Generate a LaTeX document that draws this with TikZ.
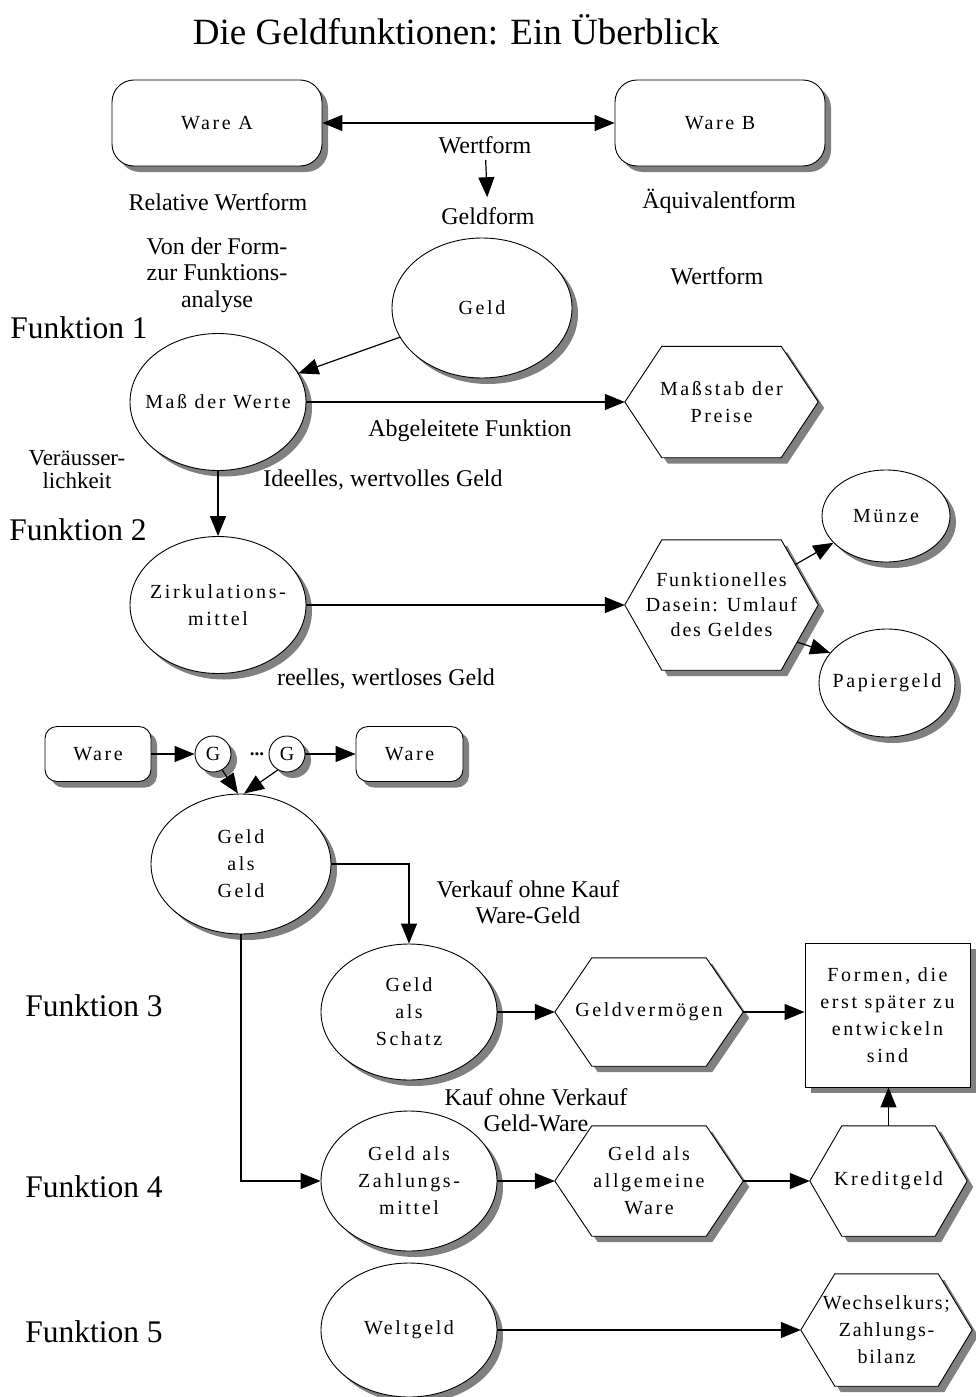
\documentclass[tikz,border=0pt]{standalone}
\usepackage{fontspec}
\setmainfont{Liberation Serif}
\newfontfamily\boxfont[LetterSpace=13]{Liberation Serif}
\newfontfamily\tightboxfont[LetterSpace=9]{Liberation Serif}
\usetikzlibrary{arrows.meta,shapes.geometric,shadows,calc,backgrounds}
\definecolor{shadowgray}{RGB}{128,128,128}
\tikzset{
  shad/.style={drop shadow={shadow xshift=6pt,shadow yshift=-6pt,fill=shadowgray,opacity=1}},
  outline/.style={draw=black,fill=white,line width=0.9pt,shad},
  inbox/.style={font=\boxfont\fontsize{20}{27}\selectfont,align=center,inner sep=0pt},
  oval/.style 2 args={outline,inbox,ellipse,inner xsep=-60pt,inner ysep=-30pt,minimum width=#1pt,minimum height=#2pt},
  rbox/.style n args={3}{outline,inbox,rectangle,rounded corners=#3pt,minimum width=#1pt,minimum height=#2pt},
  hexlabel/.style={inbox,rectangle},
  hexshape/.style={outline},
  lab/.style={font=\fontsize{24}{26.5}\selectfont,align=center,inner sep=1pt},
  funk/.style={font=\fontsize{31.5}{34}\selectfont,inner sep=0pt},
  arr/.style={line width=1.2pt,-{Triangle[length=20pt,width=16pt]}},
  link/.style={line width=1.2pt},
}
% hexagonal box: [options]{name}{centre}{width}{height}{inset}{text}
\newcommand\hexbox[7][]{%
  \node[hexlabel,minimum width=#4pt,minimum height=#5pt,#1] (#2) at (#3) {#7};
  \begin{scope}[on background layer]
    \path[hexshape] (#2.west) -- ([xshift=#6pt]#2.north west) -- ([xshift=-#6pt]#2.north east)
      -- (#2.east) -- ([xshift=-#6pt]#2.south east) -- ([xshift=#6pt]#2.south west) -- cycle;
  \end{scope}}

\begin{document}
\begin{tikzpicture}[x=1pt,y=-1pt]
\useasboundingbox (0,0) rectangle (975,1397);
\node[font=\fontsize{37}{40}\selectfont] (title) at (456,30) {Die Geldfunktionen: Ein Überblick};

% value form
\node[rbox={210}{86}{22}] (wa) at (217,123) {Ware A};
\node[rbox={210}{86}{22}] (wb) at (720,123) {Ware B};
\draw[link,{Triangle[length=20pt,width=16pt]}-{Triangle[length=20pt,width=16pt]}] (wa) -- (wb);
\node[lab] (wf) at (485,145) {Wertform};
\node[lab] (gf) at (488,216) {Geldform};
\draw[arr,shorten <=5pt,shorten >=9pt] (wf) -- (gf);
\node[lab] (rw) at (218,202) {Relative Wertform};
\node[lab] (aq) at (719,201) {Äquivalentform};
\node[lab] (vf) at (217,275) {Von der Form-\\zur Funktions-\\analyse};
\node[lab] (wf2) at (717,276) {Wertform};

% function 1
\node[funk] (f1) at (79,328) {Funktion 1};
\node[oval={180}{140}] (geld) at (482,308) {Geld};
\node[oval={176}{137}] (mass) at (218,402) {Maß der Werte};
\draw[arr] (geld) -- (mass);
\hexbox{mst}{721.5,402}{193}{111}{37}{Maßstab der\\Preise};
\draw[arr] (mass) -- (mst);
\node[lab] (abg) at (470,431) {Abgeleitete Funktion};
\node[lab,font=\fontsize{23}{23}\selectfont] (ver) at (77,470) {Veräusser-\\lichkeit};
\node[lab] (ide) at (383,480) {Ideelles, wertvolles Geld};

% function 2
\node[funk] (f2) at (78,530) {Funktion 2};
\node[oval={176}{137}] (zirk) at (218,605) {Zirkulations-\\mittel};
\draw[arr] (mass) -- (zirk);
\hexbox[font=\tightboxfont\fontsize{20}{25}\selectfont]{fun}{721.5,605}{193}{130}{37}{Funktionelles\\Dasein: Umlauf\\des Geldes};
\draw[arr] (zirk) -- (fun);
\node[oval={128}{92}] (mue) at (886,516) {Münze};
\node[oval={136}{108}] (pap) at (887,683) {Papiergeld};
\draw[arr] ($(fun.east)!0.62!([xshift=-37pt]fun.north east)$) -- (mue.207);
\draw[arr] ($(fun.east)!0.57!([xshift=-37pt]fun.south east)$) -- (pap.152);
\node[lab] (ree) at (386,679) {reelles, wertloses Geld};

% circulation W - G ... G - W
\node[rbox={106}{55}{12}] (w1) at (98,754) {Ware};
\node[oval={36}{36}] (g1) at (213,754) {G};
\node[oval={36}{36}] (g2) at (287,754) {G};
\node[rbox={107}{55}{12}] (w2) at (409.5,754) {Ware};
\node[font=\bfseries\fontsize{19}{20}\selectfont,inner sep=0pt] (dots) at (257,754) {...};
\draw[arr] (w1) -- (g1);
\draw[arr] (g2) -- (w2);
\node[oval={180}{140}] (gag) at (241,864) {Geld\\als\\Geld};
\draw[arr] (g1.-60) -- ([xshift=-3pt]gag.north);
\draw[arr] (g2.-120) -- ([xshift=3pt]gag.north);

% function 3
\node[funk] (f3) at (94,1006) {Funktion 3};
\node[oval={176}{136}] (sch) at (409,1012) {Geld\\als\\Schatz};
\draw[arr] (gag.east) -| (sch.north);
\node[lab] (vok) at (528,902) {Verkauf ohne Kauf\\Ware-Geld};
\hexbox{gv}{649,1012}{188}{108}{37}{Geldvermögen};
\draw[arr] (sch) -- (gv);
\node[outline,inbox,minimum width=165pt,minimum height=144pt] (for) at (887.5,1015) {Formen, die\\erst später zu\\entwickeln\\sind};
\draw[arr] (gv.east) -- (gv.east -| for.west);

% function 4
\node[lab] (kov) at (536,1110) {Kauf ohne Verkauf\\Geld-Ware};
\node[funk] (f4) at (94,1187) {Funktion 4};
\node[oval={176}{140}] (zah) at (409,1181) {Geld als\\Zahlungs-\\mittel};
\draw[arr] (gag.south) |- (zah.west);
\hexbox{gaw}{649,1181}{188}{110}{37}{Geld als\\allgemeine\\Ware};
\draw[arr] (zah) -- (gaw);
\hexbox{kre}{888.5,1181}{157}{110}{32}{Kreditgeld};
\draw[arr] (gaw) -- (kre);
\draw[arr] (kre.north) -- (kre.north |- for.south);

% function 5
\node[funk] (f5) at (94,1332) {Funktion 5};
\node[oval={176}{134}] (wel) at (409,1330) {Weltgeld};
\hexbox[font=\tightboxfont\fontsize{20}{27}\selectfont]{wec}{886.5,1330}{171}{112}{34}{Wechselkurs;\\Zahlungs-\\bilanz};
\draw[arr] (wel) -- (wec);
\end{tikzpicture}
\end{document}
